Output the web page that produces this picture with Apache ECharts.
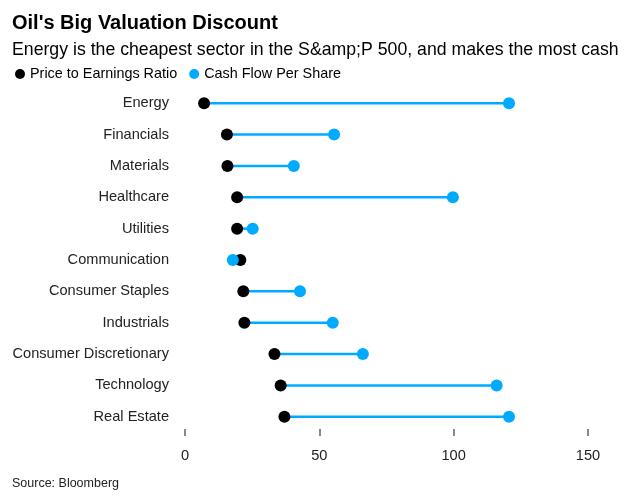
<!DOCTYPE html>
<html><head><meta charset="utf-8">
<script src="https://cdn.jsdelivr.net/npm/echarts@6/dist/echarts.min.js"></script>
<style>html,body{margin:0;padding:0;background:#fff}#c{width:630px;height:503px}</style>
</head><body><div id="c"></div>
<script>
const categories = ["Energy","Financials","Materials","Healthcare","Utilities","Communication","Consumer Staples","Industrials","Consumer Discretionary","Technology","Real Estate"];
const peRatio = [7.1, 15.6, 15.8, 19.4, 19.4, 20.6, 21.7, 22.1, 33.3, 35.6, 37.0];
const cashFlow = [120.6, 55.5, 40.5, 99.7, 25.2, 17.8, 42.8, 55.0, 66.2, 116.0, 120.6];
const xTicks = [0, 50, 100, 150];

const FONT = "Liberation Sans, Arial, sans-serif";
const BLUE = "#00aaff";
const chart = echarts.init(document.getElementById('c'), null, {renderer:'canvas'});
chart.setOption({
  animation:false,
  textStyle:{fontFamily:FONT},
  title:{
    text:"Oil's Big Valuation Discount",
    subtext:"Energy is the cheapest sector in the S&amp;P 500, and makes the most cash",
    left:7, top:8, itemGap:8,
    textStyle:{fontSize:20,fontWeight:'bold',color:'#000',fontFamily:FONT},
    subtextStyle:{fontSize:17.7,color:'#000',fontFamily:FONT}
  },
  legend:{
    left:10, top:62, icon:'circle', itemWidth:10, itemHeight:10, itemGap:12,
    textStyle:{fontSize:14.4,color:'#000',fontFamily:FONT,padding:[0,0,0,0]},
    data:[{name:'Price to Earnings Ratio',itemStyle:{color:'#000'}},{name:'Cash Flow Per Share',itemStyle:{color:BLUE}}]
  },
  grid:{left:185, right:42, top:87.5, bottom:70.5, containLabel:false},
  xAxis:{
    type:'value', min:0, max:150, interval:50, offset:-3.5,
    axisLine:{show:false},
    axisTick:{show:true,length:7,lineStyle:{color:'#888',width:2}},
    splitLine:{show:false},
    axisLabel:{fontSize:14.6,color:'#222',margin:19,fontFamily:FONT,
      formatter:v=>xTicks.includes(v)?String(v):''}
  },
  yAxis:{
    type:'category', data:categories, inverse:true,
    axisLine:{show:false}, axisTick:{show:false}, splitLine:{show:false},
    axisLabel:{fontSize:14.6,color:'#222',margin:16,fontFamily:FONT}
  },
  series:[
    {
      type:'custom', name:'links', silent:true, z:1,
      data:categories.map((c,i)=>[peRatio[i],cashFlow[i],i]),
      encode:{x:[0,1],y:2},
      renderItem:(params,api)=>{
        const a=api.coord([api.value(0),api.value(2)]);
        const b=api.coord([api.value(1),api.value(2)]);
        return {type:'line',shape:{x1:a[0],y1:a[1],x2:b[0],y2:b[1]},style:{stroke:BLUE,lineWidth:2.5}};
      }
    },
    {type:'scatter',name:'Price to Earnings Ratio',symbolSize:12,z:2,itemStyle:{color:'#000',opacity:1},
     data:peRatio.map((v,i)=>[v,i])},
    {type:'scatter',name:'Cash Flow Per Share',symbolSize:12,z:3,itemStyle:{color:BLUE,opacity:1},
     data:cashFlow.map((v,i)=>[v,i])}
  ],
  graphic:[{type:'text',left:12,top:477,style:{text:'Source: Bloomberg',fontSize:12.5,fill:'#222',fontFamily:FONT}}]
});
</script></body></html>
